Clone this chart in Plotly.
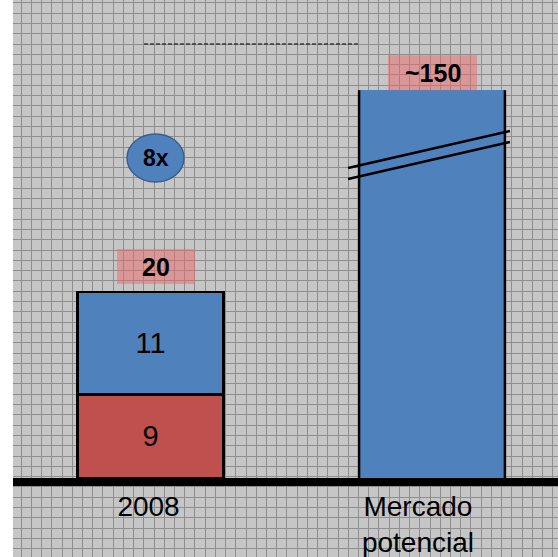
import plotly.graph_objects as go

# ---------------- data ----------------
categories = ["2008", "Mercado<br>potencial"]
positions = [0, 1]
seg_red = [9]          # lower segment of 2008 bar
seg_blue = [11]        # upper segment of 2008 bar
potential_value = 150  # "~150" (bar drawn truncated because of the axis break)
potential_drawn = 41.7 # height at which the broken bar is drawn
growth_label = "8x"

# ---------------- styling / geometry helpers ----------------
W, H = 558, 557
ML = 13
X0_PX, PX_PER_X = 150.5, 281.5   # x=0 pixel, pixels per x unit
Y0_PX, PX_PER_Y = 478.0, 9.3     # y=0 pixel, pixels per y unit

def xu(px):
    return (px - X0_PX) / PX_PER_X

def yu(px):
    return (Y0_PX - px) / PX_PER_Y

BLUE = "#4F81BD"
RED = "#C0504D"
BG = "#C6C6C6"
GRID = "#8E8E8E"
FONT = "Liberation Sans, Arial, sans-serif"
bar_w = 0.518

total_2008 = seg_red[0] + seg_blue[0]

fig = go.Figure()
fig.add_trace(go.Bar(
    x=[positions[0]], y=seg_red, width=bar_w,
    marker=dict(color=RED, line=dict(color="black", width=2.5)),
    text=[str(v) for v in seg_red], textposition="inside", insidetextanchor="middle",
    textfont=dict(size=29, color="black", family=FONT), hoverinfo="skip"))
fig.add_trace(go.Bar(
    x=[positions[0]], y=seg_blue, width=bar_w,
    marker=dict(color=BLUE, line=dict(color="black", width=2.5)),
    text=[str(v) for v in seg_blue], textposition="inside", insidetextanchor="middle",
    textfont=dict(size=29, color="black", family=FONT), hoverinfo="skip"))
fig.add_trace(go.Bar(
    x=[positions[1]], y=[potential_drawn], width=bar_w,
    marker=dict(color=BLUE, line=dict(width=0)), hoverinfo="skip"))

shapes = []
# side borders of the broken bar
for side in (-1, 1):
    xs = positions[1] + side * bar_w / 2
    shapes.append(dict(type="line", xref="x", yref="y", x0=xs, x1=xs, y0=0, y1=potential_drawn,
                       line=dict(color="black", width=2.5), layer="above"))
# axis-break marks
bx0 = positions[1] - bar_w / 2 - 11 / PX_PER_X
bx1 = positions[1] + bar_w / 2 + 5 / PX_PER_X
for off in (0, 11):
    shapes.append(dict(type="line", xref="x", yref="y", x0=bx0, x1=bx1,
                       y0=yu(168 + off), y1=yu(131 + off),
                       line=dict(color="black", width=2.5), layer="above"))
# pink value boxes
box_h = 35 / PX_PER_Y
gap = 8 / PX_PER_Y
PINK = "rgba(236,104,104,0.5)"
b1c = positions[0] + 5.5 / PX_PER_X
shapes.append(dict(type="rect", xref="x", yref="y",
                   x0=b1c - 39 / PX_PER_X, x1=b1c + 39 / PX_PER_X,
                   y0=total_2008 + gap, y1=total_2008 + gap + box_h,
                   fillcolor=PINK, line=dict(width=0), layer="above"))
b2c = positions[1] + 0.5 / PX_PER_X
shapes.append(dict(type="rect", xref="x", yref="y",
                   x0=b2c - 44.5 / PX_PER_X, x1=b2c + 44.5 / PX_PER_X,
                   y0=potential_drawn, y1=potential_drawn + box_h,
                   fillcolor=PINK, line=dict(width=0), layer="above"))
# growth ellipse
ecx, ecy = xu(155.5), yu(158)
shapes.append(dict(type="circle", xref="x", yref="y",
                   x0=ecx - 28.5 / PX_PER_X, x1=ecx + 28.5 / PX_PER_X,
                   y0=ecy - 24 / PX_PER_Y, y1=ecy + 24 / PX_PER_Y,
                   fillcolor=BLUE, line=dict(color="#3A5F8C", width=1.5), layer="above"))
# dashed connector line
shapes.append(dict(type="line", xref="x", yref="y", x0=xu(144), x1=xu(358), y0=yu(44), y1=yu(44),
                   line=dict(color="black", width=1, dash="4px,2px"), layer="above"))

annotations = [
    dict(x=b1c, y=total_2008 + gap + box_h / 2, xref="x", yref="y",
         text=f"<b>{total_2008}</b>", showarrow=False,
         font=dict(size=25, color="black", family=FONT)),
    dict(x=b2c, y=potential_drawn + box_h / 2, xref="x", yref="y",
         text=f"<b>~{potential_value}</b>", showarrow=False,
         font=dict(size=25, color="black", family=FONT)),
    dict(x=ecx, y=ecy, xref="x", yref="y", text=f"<b>{growth_label}</b>", showarrow=False,
         font=dict(size=23, color="black", family=FONT)),
]

tick_offsets = [-0.007, -0.05]
fig.update_layout(
    width=W, height=H,
    margin=dict(l=ML, r=0, t=0, b=0, pad=0),
    paper_bgcolor="white", plot_bgcolor=BG,
    barmode="stack", showlegend=False,
    shapes=shapes, annotations=annotations,
    xaxis=dict(
        type="linear", range=[xu(ML), xu(W)],
        tickmode="array", tickvals=[p + o for p, o in zip(positions, tick_offsets)],
        ticktext=categories, ticks="",
        tickfont=dict(size=28, color="black", family=FONT),
        ticklabelstandoff=-4,
        anchor="free", position=1 - (Y0_PX + 4) / H,
        showline=True, linecolor="black", linewidth=8,
        showgrid=False, zeroline=False, fixedrange=True,
        minor=dict(showgrid=True, gridcolor=GRID, gridwidth=1,
                   tick0=xu(11), dtick=10.22 / PX_PER_X),
    ),
    yaxis=dict(
        range=[yu(H), yu(0)], showticklabels=False, ticks="",
        showgrid=False, zeroline=False, showline=False, fixedrange=True,
        minor=dict(showgrid=True, gridcolor=GRID, gridwidth=1,
                   tick0=yu(2.8), dtick=10.3 / PX_PER_Y),
    ),
)

fig.write_html("out.html", config={"displayModeBar": False},
               post_script="document.body.style.margin='0px';")
